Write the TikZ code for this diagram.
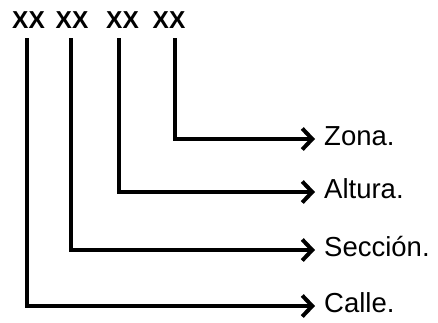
\documentclass[tikz,border=0pt]{standalone}
\usepackage{fontspec}
\setmainfont{Liberation Sans}
\newfontfamily\codefont{Liberation Sans Bold}
\usetikzlibrary{arrows.meta}

\tikzset{
  code/.style={font=\codefont\fontsize{24.5}{24.5}\selectfont, inner sep=0pt, anchor=base},
  field/.style={font=\fontsize{27.5}{27.5}\selectfont, anchor=west, inner sep=0pt,
                inner xsep=9pt, text height=13pt, text depth=0pt},
  conn/.style={line width=4pt, -{Straight Barb[length=10pt,width=21pt,line width=4pt]}}
}

\begin{document}
\begin{tikzpicture}[x=1pt,y=1pt]
  \useasboundingbox (0,0) rectangle (438,-322);

  % the four two-digit groups of the code
  \node[code] (g1) at (28.5,-28) {XX};
  \node[code] (g2) at (72,-28) {XX};
  \node[code] (g3) at (122.5,-28) {XX};
  \node[code] (g4) at (169,-28) {XX};

  % where each leader line starts, just below its group
  \coordinate (s1) at (27,-38);
  \coordinate (s2) at (71,-38);
  \coordinate (s3) at (119,-38);
  \coordinate (s4) at (175,-38);

  % meaning of each group
  \node[field] (zona)    at (315,-139) {Zona.};
  \node[field] (altura)  at (315,-192) {Altura.};
  \node[field] (seccion) at (315,-250) {Sección.};
  \node[field] (calle)   at (315,-306) {Calle.};

  \draw[conn] (s4) |- (zona);
  \draw[conn] (s3) |- (altura);
  \draw[conn] (s2) |- (seccion);
  \draw[conn] (s1) |- (calle);
\end{tikzpicture}
\end{document}
